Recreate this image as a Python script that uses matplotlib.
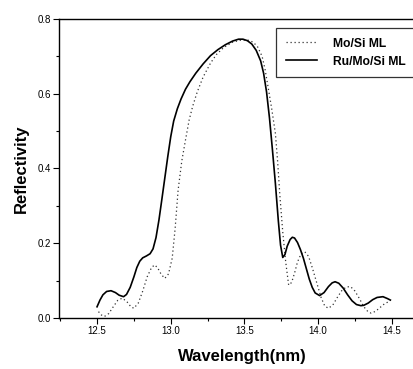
import numpy as np
import matplotlib.pyplot as plt
from matplotlib.ticker import MultipleLocator

# Ru/Mo/Si ML (solid)
wl_ru = [12.50, 12.52, 12.54, 12.565, 12.595, 12.625, 12.65, 12.68, 12.70, 12.725, 12.75,
         12.77, 12.79, 12.81, 12.835, 12.86, 12.88, 12.90, 12.92, 12.94, 12.96, 12.98,
         13.0, 13.02, 13.045, 13.07, 13.10, 13.13, 13.17, 13.22, 13.27, 13.32, 13.37,
         13.42, 13.46, 13.49, 13.52, 13.55, 13.58, 13.61, 13.63, 13.65, 13.67, 13.69,
         13.71, 13.73, 13.745, 13.76, 13.775, 13.79, 13.81, 13.825, 13.84, 13.86, 13.88,
         13.90, 13.92, 13.94, 13.96, 13.98, 14.01, 14.04, 14.07, 14.095, 14.115, 14.14,
         14.17, 14.20, 14.23, 14.26, 14.29, 14.31, 14.34, 14.37, 14.40, 14.44, 14.47, 14.49]
r_ru = [0.030, 0.048, 0.062, 0.071, 0.073, 0.068, 0.061, 0.057, 0.063, 0.082, 0.110,
        0.135, 0.152, 0.161, 0.166, 0.172, 0.185, 0.215, 0.262, 0.318, 0.375, 0.432,
        0.485, 0.527, 0.560, 0.586, 0.612, 0.632, 0.655, 0.680, 0.702, 0.718, 0.731,
        0.741, 0.746, 0.746, 0.742, 0.733, 0.716, 0.688, 0.655, 0.605, 0.535, 0.450,
        0.360, 0.260, 0.195, 0.162, 0.170, 0.192, 0.210, 0.216, 0.214, 0.202, 0.183,
        0.160, 0.132, 0.104, 0.082, 0.067, 0.060, 0.068, 0.084, 0.094, 0.097, 0.093,
        0.080, 0.062, 0.046, 0.036, 0.033, 0.034, 0.040, 0.049, 0.055, 0.057, 0.052, 0.048]

# Mo/Si ML (dotted)
wl_mo = [12.51, 12.53, 12.55, 12.58, 12.61, 12.64, 12.67, 12.70, 12.73, 12.75, 12.78,
         12.81, 12.84, 12.87, 12.89, 12.91, 12.935, 12.96, 12.985, 13.01, 13.03, 13.05,
         13.075, 13.10, 13.125, 13.15, 13.18, 13.22, 13.27, 13.31, 13.36, 13.42, 13.47,
         13.52, 13.56, 13.59, 13.62, 13.64, 13.66, 13.685, 13.71, 13.725, 13.74, 13.76,
         13.78, 13.80, 13.82, 13.84, 13.86, 13.885, 13.91, 13.935, 13.96, 13.99, 14.02,
         14.045, 14.07, 14.10, 14.13, 14.16, 14.19, 14.22, 14.25, 14.28, 14.31, 14.34,
         14.36, 14.39, 14.42, 14.45, 14.48]
r_mo = [0.017, 0.008, 0.004, 0.012, 0.030, 0.047, 0.053, 0.045, 0.030, 0.026, 0.040,
        0.072, 0.110, 0.135, 0.142, 0.135, 0.117, 0.106, 0.118, 0.160, 0.240, 0.342,
        0.420, 0.476, 0.530, 0.568, 0.605, 0.645, 0.682, 0.705, 0.724, 0.738, 0.743,
        0.744, 0.738, 0.725, 0.700, 0.665, 0.619, 0.560, 0.494, 0.420, 0.330, 0.230,
        0.150, 0.088, 0.095, 0.120, 0.150, 0.172, 0.177, 0.165, 0.135, 0.095, 0.055,
        0.032, 0.026, 0.035, 0.055, 0.073, 0.083, 0.084, 0.072, 0.052, 0.030, 0.016,
        0.013, 0.018, 0.028, 0.038, 0.044]

fig = plt.figure(figsize=(4.14, 3.69), dpi=100)
ax = fig.add_axes([59 / 414, 51 / 369, 366 / 414, 299 / 369])

ax.plot(wl_mo, r_mo, color='#333333', linestyle=(0, (1, 2.2)), linewidth=0.9, label='Mo/Si ML')
ax.plot(wl_ru, r_ru, color='black', linewidth=1.2, label='Ru/Mo/Si ML')

ax.set_xlim(12.242, 14.725)
ax.set_ylim(0, 0.8)
ax.xaxis.set_major_locator(MultipleLocator(0.5))
ax.xaxis.set_minor_locator(MultipleLocator(0.25))
ax.yaxis.set_major_locator(MultipleLocator(0.2))
ax.yaxis.set_minor_locator(MultipleLocator(0.1))
ax.tick_params(which='major', direction='out', length=4, width=0.8,
               labelsize=7, pad=2)
ax.tick_params(which='minor', direction='out', length=2, width=0.8)
ax.tick_params(top=False, right=False)
for lab in ax.get_xticklabels() + ax.get_yticklabels():
    lab.set_family('Liberation Sans')
ax.yaxis.set_major_formatter(plt.FuncFormatter(lambda v, p: f'{v:.1f}'))
ax.xaxis.set_major_formatter(plt.FuncFormatter(lambda v, p: f'{v:.1f}'))

for s in ax.spines.values():
    s.set_linewidth(1.0)

ax.set_xlabel('Wavelength(nm)', fontsize=12, fontweight='bold', family='Liberation Sans', labelpad=9)
ax.set_ylabel('Reflectivity', fontsize=12, fontweight='bold', family='Liberation Sans', labelpad=6)

leg = ax.legend(loc='upper left', bbox_to_anchor=(0.593, 0.97), borderaxespad=0,
                prop={'family': 'Liberation Sans', 'size': 8.7, 'weight': 'bold'},
                frameon=True, fancybox=False, handlelength=2.6, borderpad=0.8,
                labelspacing=0.5, handletextpad=1.3)
leg.get_frame().set_edgecolor('black')
leg.get_frame().set_linewidth(0.9)

fig.savefig('out.png', dpi=100)
